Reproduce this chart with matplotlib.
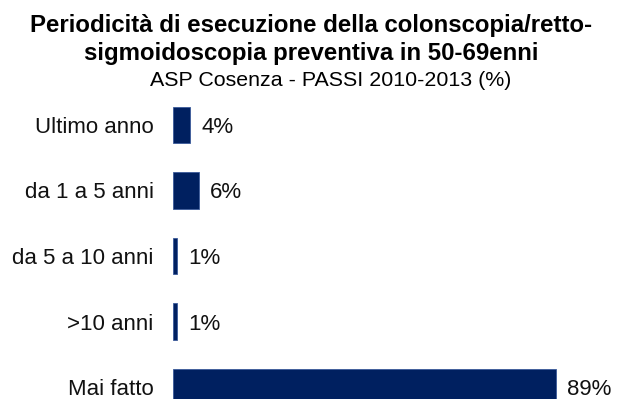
import matplotlib.pyplot as plt

plt.rcParams['font.family'] = ['Liberation Sans', 'DejaVu Sans']

categories = ['Ultimo anno', 'da 1 a 5 anni', 'da 5 a 10 anni', '>10 anni', 'Mai fatto']
values = [4, 6, 1, 1, 89]
value_labels = ['4%', '6%', '1%', '1%', '89%']

W, H = 618, 399
fig = plt.figure(figsize=(W / 100, H / 100), dpi=100)

# axes span the full height, bar rows every 65.5 px starting at y=125 px
x0, x1 = 173, 603
ax = fig.add_axes([x0 / W, 0, (x1 - x0) / W, 1])
step, first = 65.5, 125.0
ax.set_ylim((H - first) / step, -first / step)
ax.set_xlim(0, 100)

pos = list(range(len(categories)))
ax.barh(pos, values, height=0.55, color='#002060', edgecolor='#3a5a9a', linewidth=0.6)

for p, v, lab in zip(pos, values, value_labels):
    ax.annotate(lab, (v, p), xytext=(8, 0), textcoords='offset points',
                ha='left', va='center_baseline', fontsize=16, color='#111111')

ax.set_yticks(pos)
ax.set_yticklabels(categories, fontsize=16, color='#111111')
ax.tick_params(axis='y', length=0, pad=14)
ax.set_xticks([])
for s in ax.spines.values():
    s.set_visible(False)

fig.text(311.5 / W, 1 - 32 / H, 'Periodicità di esecuzione della colonscopia/retto-',
         ha='center', va='baseline', fontsize=17.3, fontweight='bold')
fig.text(311.5 / W, 1 - 60 / H, 'sigmoidoscopia preventiva in 50-69enni',
         ha='center', va='baseline', fontsize=17.3, fontweight='bold')
fig.text(331 / W, 1 - 86 / H, 'ASP Cosenza - PASSI 2010-2013 (%)',
         ha='center', va='baseline', fontsize=15.4)

fig.savefig('out.png', dpi=100)
